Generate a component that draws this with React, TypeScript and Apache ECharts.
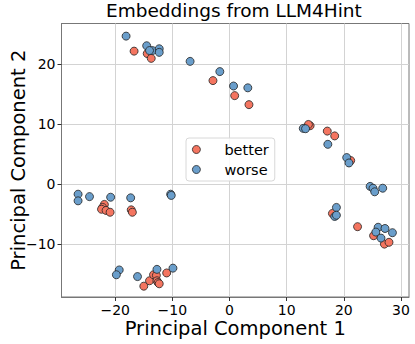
import React, { useEffect, useRef } from "react";
import * as echarts from "echarts";

const seriesNames = ["better", "worse"];
const betterPoints: [number, number][] = [
  [-16.7, 22.1], [-14.4, 21.7], [-13.7, 20.9], [-2.9, 17.2], [0.9, 14.7], [3.4, 13.2],
  [14.1, 9.7], [13.8, 9.9], [17.1, 8.8], [18.4, 8.0], [21.2, 3.9],
  [-21.9, -3.4], [-22.2, -3.9], [-22.4, -4.2], [-21.6, -4.4], [-20.9, -4.7],
  [-17.2, -4.3], [-17.0, -4.7],
  [-11.0, -14.8], [-14.0, -16.1], [-15.0, -17.0], [-13.3, -15.1], [-12.8, -15.2],
  [-12.7, -16.1], [-12.5, -16.4], [-12.3, -16.6],
  [18.0, -4.9], [22.4, -7.1], [25.2, -8.6], [27.1, -10.0], [27.9, -9.7],
];
const worsePoints: [number, number][] = [
  [-18.1, 24.6], [-14.5, 23.0], [-13.5, 22.2], [-14.0, 22.2], [-12.3, 22.5], [-12.3, 21.9],
  [-6.9, 20.4], [-1.7, 18.7], [0.7, 16.3], [3.2, 16.0],
  [12.9, 9.25], [13.3, 9.2], [17.2, 6.6], [20.5, 4.4], [20.9, 3.5],
  [-26.5, -1.7], [-26.5, -2.8], [-24.5, -2.1], [-20.8, -2.2], [-17.3, -2.3],
  [-10.3, -1.7], [-10.2, -1.9],
  [-19.3, -14.3], [-19.8, -15.1], [-16.1, -15.4], [-12.7, -14.2], [-9.9, -14.0],
  [24.6, -0.4], [25.1, -0.7], [25.4, -1.3], [26.8, -0.7],
  [18.7, -3.9], [18.4, -5.4], [18.7, -5.2],
  [26.0, -7.2], [25.6, -8.0], [26.5, -9.0], [27.2, -7.4], [28.5, -8.1],
];
const xTicks = [-20, -10, 0, 10, 20, 30];
const yTicks = [-10, 0, 10, 20];

const FONT = "DejaVu Sans";
const fmt = (v: number) => (v < 0 ? "\u2212" + Math.abs(v) : String(v));

export default function App() {
  const ref = useRef<HTMLDivElement>(null);
  useEffect(() => {
    if (!ref.current) return;
    const chart = echarts.init(ref.current, undefined, { renderer: "svg" });
    const colors = ["#f47560", "#6a9ecb"];
    chart.setOption({
      animation: false,
      backgroundColor: "#ffffff",
      title: {
        text: "Embeddings from LLM4Hint",
        left: 106,
        top: 1,
        padding: 0,
        textStyle: { fontFamily: FONT, fontSize: 18.5, fontWeight: "normal", color: "#000" },
      },
      grid: {
        left: 61.5,
        right: 6,
        top: 23.5,
        bottom: 47,
        containLabel: false,
        outerBoundsMode: "none",
        show: true,
        borderColor: "#777",
        borderWidth: 1,
        backgroundColor: "transparent",
      },
      legend: {
        orient: "vertical",
        left: 186,
        top: 138,
        padding: [4, 6, 4, 6],
        itemGap: 5,
        itemWidth: 26,
        itemHeight: 8,
        icon: "circle",
        backgroundColor: "rgba(255,255,255,0.85)",
        borderColor: "#d8d8d8",
        borderWidth: 1,
        borderRadius: 3,
        itemStyle: { borderWidth: 0.8 },
        textStyle: { fontFamily: FONT, fontSize: 14.5, color: "#000", padding: [0, 0, 0, 10] },
        data: seriesNames,
      },
      xAxis: {
        type: "value",
        min: -29.4,
        max: 31.4,
        name: "Principal Component 1",
        nameLocation: "middle",
        nameGap: 21,
        nameMoveOverlap: false,
        nameTextStyle: { fontFamily: FONT, fontSize: 19.5, color: "#000" },
        axisLine: { show: true, onZero: false, lineStyle: { color: "#777" } },
        axisTick: { show: true, length: 4, customValues: xTicks, lineStyle: { color: "#333" } },
        axisLabel: {
          customValues: xTicks,
          fontFamily: FONT,
          fontSize: 14,
          lineHeight: 14,
          color: "#000",
          margin: 6,
          formatter: fmt,
        },
        splitLine: { show: true, lineStyle: { color: "#d3d3d3", width: 1 } },
      },
      yAxis: {
        type: "value",
        min: -18.8,
        max: 26.7,
        name: "Principal Component 2",
        nameLocation: "middle",
        nameGap: 33,
        nameMoveOverlap: false,
        nameTextStyle: { fontFamily: FONT, fontSize: 19.5, color: "#000" },
        axisLine: { show: true, onZero: false, lineStyle: { color: "#777" } },
        axisTick: { show: true, length: 4, customValues: yTicks, lineStyle: { color: "#333" } },
        axisLabel: {
          customValues: yTicks,
          fontFamily: FONT,
          fontSize: 14,
          color: "#000",
          margin: 6,
          formatter: fmt,
        },
        splitLine: { show: true, lineStyle: { color: "#d3d3d3", width: 1 } },
      },
      series: [
        {
          name: seriesNames[0],
          type: "scatter",
          data: betterPoints,
          symbolSize: 8,
          itemStyle: { color: colors[0], borderColor: "#222", borderWidth: 0.8, opacity: 1 },
        },
        {
          name: seriesNames[1],
          type: "scatter",
          data: worsePoints,
          symbolSize: 8,
          itemStyle: { color: colors[1], borderColor: "#222", borderWidth: 0.8, opacity: 1 },
        },
      ],
    });
    return () => chart.dispose();
  }, []);
  return (
    <div
      ref={ref}
      style={{ position: "fixed", left: 0, top: 0, width: 415, height: 344 }}
    />
  );
}
